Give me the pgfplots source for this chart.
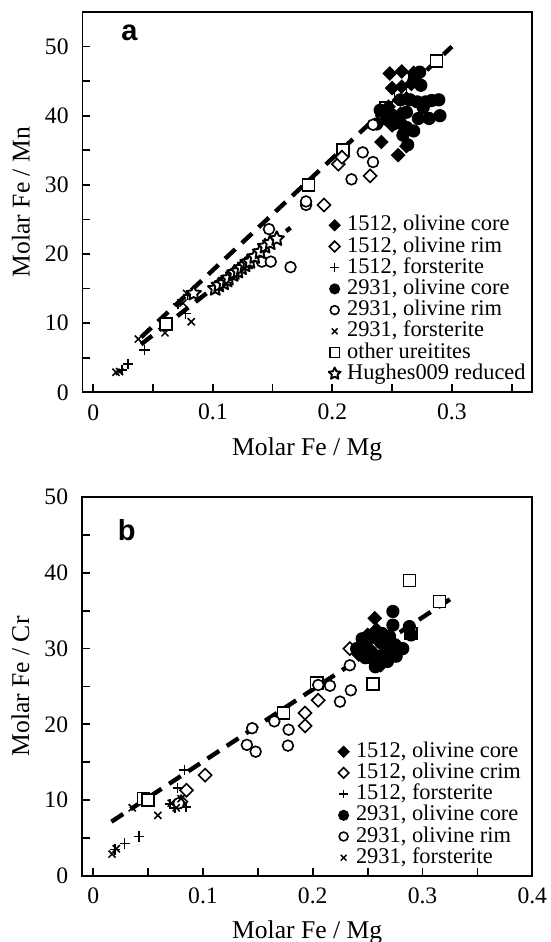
\documentclass[border=0pt]{standalone}
\usepackage{fontspec}
\setmainfont{Liberation Serif}
\newfontfamily\panelfont{Liberation Sans}
\usepackage{pgfplots}
\pgfplotsset{compat=1.18}

% open five-pointed star
\pgfdeclareplotmark{ostar}{%
  \pgfpathmoveto{\pgfpointpolar{90}{\pgfplotmarksize}}%
  \pgfpathlineto{\pgfpointpolar{126}{0.48\pgfplotmarksize}}%
  \pgfpathlineto{\pgfpointpolar{162}{\pgfplotmarksize}}%
  \pgfpathlineto{\pgfpointpolar{198}{0.48\pgfplotmarksize}}%
  \pgfpathlineto{\pgfpointpolar{234}{\pgfplotmarksize}}%
  \pgfpathlineto{\pgfpointpolar{270}{0.48\pgfplotmarksize}}%
  \pgfpathlineto{\pgfpointpolar{306}{\pgfplotmarksize}}%
  \pgfpathlineto{\pgfpointpolar{342}{0.48\pgfplotmarksize}}%
  \pgfpathlineto{\pgfpointpolar{18}{\pgfplotmarksize}}%
  \pgfpathlineto{\pgfpointpolar{54}{0.48\pgfplotmarksize}}%
  \pgfpathclose
  \pgfusepathqfillstroke}

\pgfplotsset{
  panel/.style={
    scale only axis,
    anchor=south west,
    axis line style={line width=0.9pt},
    tick pos=left, tick align=inside,
    major tick length=4pt, minor tick length=4pt,
    tick style={black, line width=0.9pt},
    minor tick style={black, line width=0.9pt},
    tick label style={inner sep=0pt, font=\fontsize{11.8}{12}\selectfont},
    /pgf/number format/assume math mode=true,
    xticklabel style={anchor=center, yshift=-10pt},
    yticklabel style={anchor=east, xshift=-6.75pt},
    every axis x label/.style={at={(axis description cs:0.5,-0.15)}, anchor=center},
    every axis y label/.style={at={(axis description cs:-0.137,0.5)}, rotate=90, anchor=center},
    label style={font=\fontsize{12.8}{13}\selectfont},
    legend style={draw=none, fill=none, anchor=north west, inner sep=0pt,
      font=\fontsize{11.2}{11.2}\selectfont,
      nodes={inner xsep=1pt, inner ysep=0.5pt, text height=7.6pt, text depth=2pt},
      row sep=0pt},
    legend cell align=left,
    legend image code/.code={
      \path (-5pt,0pt) (5pt,0pt);
      \draw[mark repeat=2,mark phase=2] plot coordinates {(-5pt,0pt)(0pt,0pt)(5pt,0pt)};},
    legend image post style={every mark/.append style={scale=0.82}},
  },
  fitline/.style={black, line width=2.2pt, dash pattern=on 7pt off 4.5pt, forget plot},
  fdiam/.style={only marks, mark=square*, mark size=2.3pt, mark options={rotate=45, draw=black, fill=black, line width=0.6pt}},
  odiam/.style={only marks, mark=square*, mark size=2.3pt, mark options={rotate=45, draw=black, fill=white, line width=0.8pt}},
  plusm/.style={only marks, mark=+, mark size=2.6pt, mark options={draw=black, line width=0.75pt}},
  fcirc/.style={only marks, mark=*, mark size=3pt, mark options={draw=black, fill=black, line width=0.6pt}},
  ocirc/.style={only marks, mark=*, mark size=2.7pt, mark options={draw=black, fill=white, line width=0.8pt}},
  crossm/.style={only marks, mark=x, mark size=2.5pt, mark options={draw=black, line width=0.75pt}},
  sqm/.style={only marks, mark=square*, mark size=3pt, mark options={draw=black, fill=white, line width=0.8pt}},
  starm/.style={only marks, mark=ostar, mark size=3.8pt, mark options={draw=black, fill=white, line width=0.95pt, line join=round}},
}

\begin{document}
\begin{tikzpicture}
\useasboundingbox (0pt,0pt) rectangle (275.5pt,471pt);

% ---- panel a: Fe/Mn vs Fe/Mg
\begin{axis}[panel,
  at={(41.25pt,274.85pt)}, width=224.75pt, height=190.15pt,
  xmin=-0.009, xmax=0.367, ymin=0, ymax=55,
  xtick={0,0.1,0.2,0.3}, minor xtick={0.05,0.15,0.25,0.35},
  ytick={0,10,20,30,40,50}, minor ytick={5,15,25,35,45},
  xlabel={Molar Fe / Mg}, ylabel={Molar Fe / Mn},
  legend style={at={(0.537,0.468)}},
]
\addplot[fitline] coordinates {(0.040,7.96) (0.300,50.0)};
\addplot[fitline] coordinates {(0.040,6.93) (0.165,23.8)};
\addplot[sqm, forget plot] coordinates {
 (0.0608,9.9) (0.180,30.0) (0.209,35.0) (0.245,41.1) (0.257,43.0) (0.269,45.2) (0.287,47.9)};

\addplot[fdiam] coordinates {
 (0.248,46.1) (0.258,46.4) (0.268,46.2) (0.250,44.0) (0.258,44.2) (0.262,42.5)
 (0.247,41.3) (0.254,39.3) (0.250,38.6) (0.241,36.2) (0.262,35.6) (0.255,34.3)
 (0.266,44.6) (0.257,40.3)};
\addlegendentry{1512, olivine core}
\addplot[odiam] coordinates {
 (0.193,27.1) (0.205,33.0) (0.208,34.0) (0.2316,31.3)};
\addlegendentry{1512, olivine rim}
\addplot[plusm] coordinates {
 (0.024,3.2) (0.029,4.1) (0.0427,6.1) (0.071,12.8) (0.077,11.4) (0.079,14.1) (0.083,14.4)};
\addlegendentry{1512, forsterite}
\addplot[fcirc] coordinates {
 (0.273,46.3) (0.268,45.0) (0.274,44.4) (0.289,42.3) (0.290,40.0) (0.281,39.6)
 (0.272,39.6) (0.265,42.3) (0.271,42.0) (0.262,40.5) (0.257,38.9) (0.262,38.3)
 (0.259,37.2) (0.263,35.8) (0.240,40.8) (0.237,38.8) (0.249,40.2) (0.257,42.3)
 (0.251,38.8) (0.278,42.0) (0.245,39.5) (0.268,37.8) (0.276,41.2) (0.283,42.2)};
\addlegendentry{2931, olivine core}
\addplot[ocirc] coordinates {
 (0.141,18.9) (0.1485,18.9) (0.147,23.6) (0.165,18.1) (0.178,27.1) (0.178,27.6)
 (0.216,30.8) (0.2254,34.7) (0.234,33.3) (0.234,38.7)};
\addlegendentry{2931, olivine rim}
\addplot[crossm] coordinates {
 (0.019,2.9) (0.022,3.0) (0.0377,7.7) (0.060,8.6) (0.075,12.9) (0.078,14.3) (0.082,10.2)};
\addlegendentry{2931, forsterite}
\addlegendimage{sqm}
\addlegendentry{other ureitites}
\addplot[starm] coordinates {
 (0.084,14.3) (0.102,15.0) (0.105,15.5) (0.109,15.8) (0.112,16.2) (0.113,16.5)
 (0.117,17.0) (0.118,17.3) (0.121,17.5) (0.124,18.0) (0.127,18.4) (0.129,18.8)
 (0.131,18.9) (0.135,19.6) (0.1395,20.3) (0.1437,21.1) (0.148,21.6) (0.1535,22.2)};
\addlegendentry{Hughes009 reduced}

\node[anchor=base west, font=\panelfont\bfseries\fontsize{14.5}{15}\selectfont]
  at (axis description cs:0.0707,0.9245) {a};
\end{axis}

% ---- panel b: Fe/Cr vs Fe/Mg
\begin{axis}[panel,
  at={(41pt,33pt)}, width=225.15pt, height=189.5pt,
  xmin=-0.0102, xmax=0.4, ymin=0, ymax=50,
  xtick={0,0.1,0.2,0.3,0.4}, minor xtick={0.05,0.15,0.25,0.35},
  ytick={0,10,20,30,40,50}, minor ytick={5,15,25,35,45},
  xlabel={Molar Fe / Mg}, ylabel={Molar Fe / Cr},
  legend style={at={(0.557,0.357)}},
]
\addplot[fitline] coordinates {(0.0166,7.16) (0.331,37.07)};
\addplot[sqm, forget plot] coordinates {
 (0.0459,10.25) (0.050,10.0) (0.1735,21.5) (0.2036,25.5) (0.255,25.3) (0.288,39.0)
 (0.3153,36.2) (0.2896,32.0)};

\addplot[fdiam] coordinates {
 (0.2565,34.0) (0.245,30.5) (0.250,31.8) (0.255,29.5) (0.260,31.0) (0.265,28.5)
 (0.252,28.8) (0.268,30.2) (0.242,29.2) (0.258,32.5) (0.262,27.8)};
\addlegendentry{1512, olivine core}
\addplot[odiam] coordinates {
 (0.102,13.3) (0.085,11.3) (0.080,9.8) (0.193,21.5) (0.193,19.8) (0.205,23.2) (0.2338,30.0)};
\addlegendentry{1512, olivine crim}
\addplot[plusm] coordinates {
 (0.020,3.5) (0.0287,4.3) (0.0417,5.2) (0.070,9.5) (0.0747,9.0) (0.077,11.6) (0.083,14.0) (0.0845,9.1)};
\addlegendentry{1512, forsterite}
\addplot[fcirc] coordinates {
 (0.273,34.9) (0.273,33.1) (0.288,32.9) (0.2896,31.8) (0.250,30.0) (0.255,31.5)
 (0.260,29.0) (0.265,30.5) (0.270,29.5) (0.275,30.5) (0.248,28.8) (0.258,28.0)
 (0.263,32.0) (0.245,31.3) (0.268,28.3) (0.276,29.0) (0.253,29.5) (0.262,30.8)
 (0.270,31.6) (0.257,27.6) (0.282,30.0) (0.240,30.0)};
\addlegendentry{2931, olivine core}
\addplot[ocirc] coordinates {
 (0.1448,19.5) (0.140,17.3) (0.148,16.4) (0.165,20.4) (0.178,19.3) (0.1774,17.2)
 (0.2248,23.0) (0.2347,24.5) (0.2157,25.1) (0.2338,27.8) (0.205,25.2) (0.078,9.6)};
\addlegendentry{2931, olivine rim}
\addplot[crossm] coordinates {
 (0.0172,2.9) (0.021,3.6) (0.0356,9.0) (0.0589,8.0) (0.071,9.6) (0.0756,9.0) (0.080,10.2)};
\addlegendentry{2931, forsterite}

\node[anchor=base west, font=\panelfont\bfseries\fontsize{14.5}{15}\selectfont]
  at (axis description cs:0.0637,0.885) {b};
\end{axis}
\end{tikzpicture}
\end{document}
